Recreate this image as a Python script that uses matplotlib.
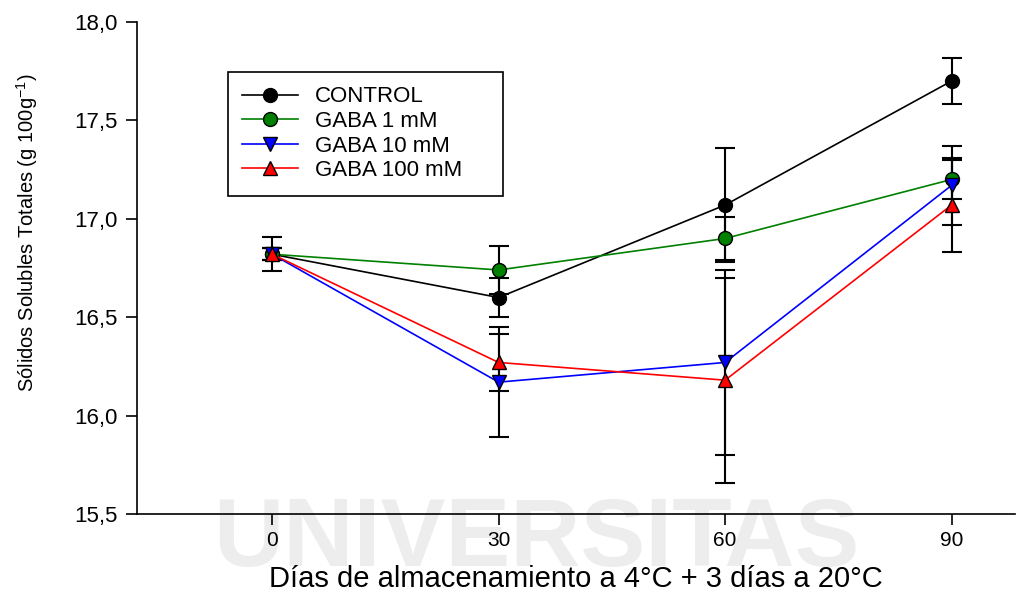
import matplotlib
matplotlib.use("Agg")
import matplotlib.pyplot as plt
from matplotlib.ticker import FuncFormatter

days = [0, 30, 60, 90]
series_names = ["CONTROL", "GABA 1 mM", "GABA 10 mM", "GABA 100 mM"]
control = [16.82, 16.60, 17.07, 17.70]
control_err = [0.085, 0.10, 0.29, 0.115]
gaba1 = [16.82, 16.74, 16.90, 17.20]
gaba1_err = [0.03, 0.12, 0.11, 0.10]
gaba10 = [16.82, 16.17, 16.27, 17.17]
gaba10_err = [0.03, 0.28, 0.47, 0.20]
gaba100 = [16.82, 16.27, 16.18, 17.07]
gaba100_err = [0.03, 0.145, 0.52, 0.24]
xticks = [0, 30, 60, 90]
yticks = [15.5, 16.0, 16.5, 17.0, 17.5, 18.0]

plt.rcParams['font.family'] = ['Liberation Sans', 'DejaVu Sans']

fig = plt.figure(figsize=(10.17, 5.94), dpi=100)
ax = fig.add_axes([137/1017, 1-514/594, (1015-137)/1017, (514-22)/594])
ax.patch.set_alpha(0)

styles = [
    dict(color='black', marker='o', mfc='black', ms=10),
    dict(color='#008000', marker='o', mfc='#008000', ms=10),
    dict(color='#0000ff', marker='v', mfc='#0000ff', ms=10),
    dict(color='#ff0000', marker='^', mfc='#ff0000', ms=10),
]
data = [(control, control_err), (gaba1, gaba1_err), (gaba10, gaba10_err), (gaba100, gaba100_err)]

for (vals, errs) in data:
    ax.errorbar(days, vals, yerr=errs, fmt='none', ecolor='black', elinewidth=1.5,
                capsize=7, capthick=1.5, zorder=2)
for (vals, errs), st, name in zip(data, styles, series_names):
    ax.plot(days, vals, color=st['color'], lw=1.2, marker=st['marker'], ms=st['ms'],
            mfc=st['mfc'], mec='black', mew=1.0, label=name, zorder=3)

ax.set_xlim(-17.9, 98.4)
ax.set_ylim(15.5, 18.0)
ax.set_xticks(xticks)
ax.set_yticks(yticks)
ax.yaxis.set_major_formatter(FuncFormatter(lambda v, p: f"{v:.1f}".replace('.', ',')))
for s in ['top', 'right']:
    ax.spines[s].set_visible(False)
for s in ['left', 'bottom']:
    ax.spines[s].set_linewidth(1.2)
ax.tick_params(direction='out', length=8, width=1.2)
ax.tick_params(axis='y', labelsize=16, pad=6)
ax.tick_params(axis='x', labelsize=15, pad=4)

ax.set_ylabel("Sólidos Solubles Totales (g 100g$^{\\mathregular{-1}}$)", fontsize=14.5)
ax.yaxis.set_label_coords((40-137)/878, (514-233)/492)
ax.set_xlabel("Días de almacenamiento a 4°C + 3 días a 20°C", fontsize=21, labelpad=11)

leg = ax.legend(loc='upper left', bbox_to_anchor=((228-137)/878, (514-194)/492,
                                                  (503-228)/878, (194-72)/492),
                mode='expand', borderaxespad=0, fontsize=16, handlelength=2.5,
                handletextpad=0.75, labelspacing=0.16, fancybox=False,
                edgecolor='black', framealpha=1, borderpad=0.65)
leg.get_frame().set_linewidth(1.2)

ax.text(0.527, 1 - 496 / 594, "UNIVERSITAS", fontsize=70, fontweight='bold',
        color='#ededed', ha='center', va='top', transform=fig.transFigure, zorder=0,
        clip_on=False)

fig.savefig("out.png", dpi=100)
